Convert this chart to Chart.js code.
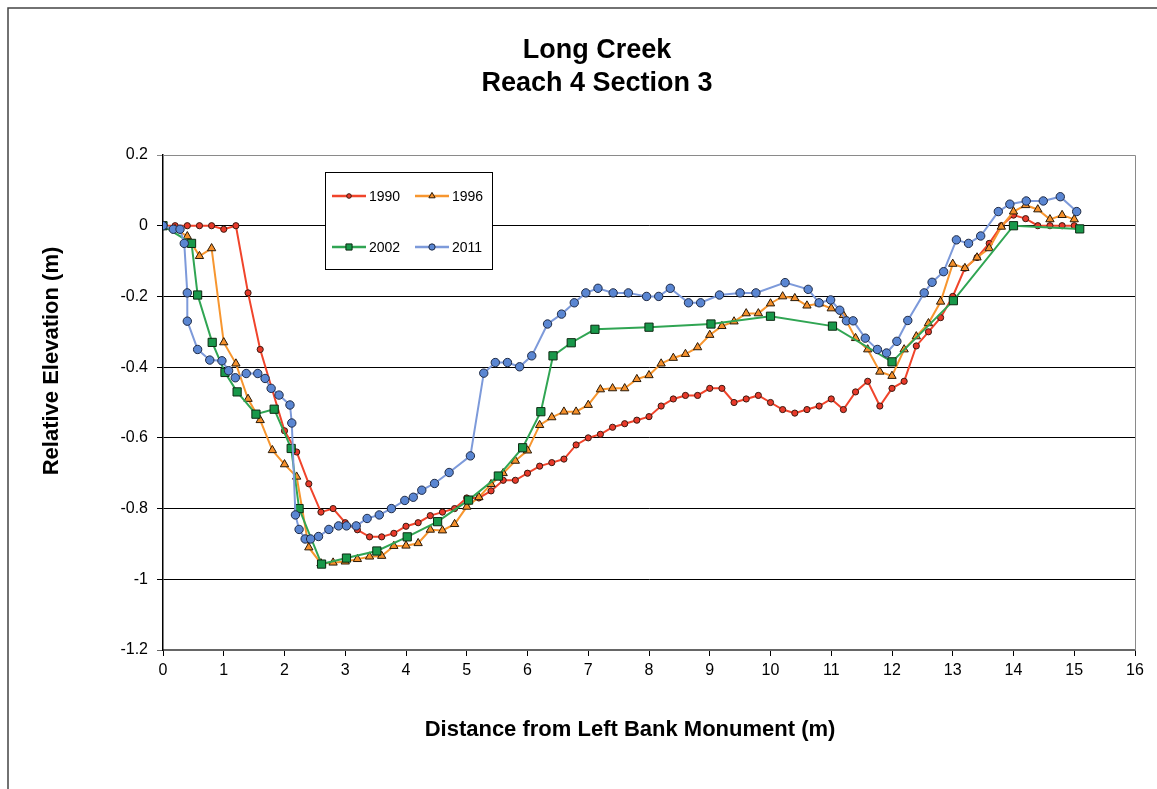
<!DOCTYPE html>
<html>
<head>
<meta charset="utf-8">
<script src="https://cdn.jsdelivr.net/npm/chart.js@4.4.1/dist/chart.umd.min.js"></script>
<style>
html,body{margin:0;padding:0;background:#fff;}
#wrap{width:1157px;height:789px;position:relative;}
</style>
</head>
<body>
<div id="wrap"><canvas id="c" width="1157" height="789"></canvas></div>
<script>
const titleLines = ["Long Creek", "Reach 4 Section 3"];
const xAxisTitle = "Distance from Left Bank Monument (m)";
const yAxisTitle = "Relative Elevation (m)";
const seriesNames = ["1990", "1996", "2002", "2011"];

const x1990 = [0,0.2,0.4,0.6,0.8,1.0,1.2,1.4,1.6,2.0,2.2,2.4,2.6,2.8,3.0,3.2,3.4,3.6,3.8,4.0,4.2,4.4,4.6,4.8,5.0,5.2,5.4,5.6,5.8,6.0,6.2,6.4,6.6,6.8,7.0,7.2,7.4,7.6,7.8,8.0,8.2,8.4,8.6,8.8,9.0,9.2,9.4,9.6,9.8,10.0,10.2,10.4,10.6,10.8,11.0,11.2,11.4,11.6,11.8,12.0,12.2,12.4,12.6,12.8,13.0,13.2,13.4,13.6,13.8,14.0,14.2,14.4,14.6,14.8,15.0];
const y1990 = [0,0,0,0,0,-0.01,0,-0.19,-0.35,-0.58,-0.64,-0.73,-0.81,-0.80,-0.84,-0.86,-0.88,-0.88,-0.87,-0.85,-0.84,-0.82,-0.81,-0.80,-0.77,-0.77,-0.75,-0.72,-0.72,-0.70,-0.68,-0.67,-0.66,-0.62,-0.60,-0.59,-0.57,-0.56,-0.55,-0.54,-0.51,-0.49,-0.48,-0.48,-0.46,-0.46,-0.50,-0.49,-0.48,-0.50,-0.52,-0.53,-0.52,-0.51,-0.49,-0.52,-0.47,-0.44,-0.51,-0.46,-0.44,-0.34,-0.30,-0.26,-0.20,-0.12,-0.09,-0.05,0,0.03,0.02,0,0,0,0];

const x1996 = [0,0.2,0.4,0.6,0.8,1.0,1.2,1.4,1.6,1.8,2.0,2.2,2.4,2.6,2.8,3.0,3.2,3.4,3.6,3.8,4.0,4.2,4.4,4.6,4.8,5.0,5.2,5.4,5.6,5.8,6.0,6.2,6.4,6.6,6.8,7.0,7.2,7.4,7.6,7.8,8.0,8.2,8.4,8.6,8.8,9.0,9.2,9.4,9.6,9.8,10.0,10.2,10.4,10.6,10.8,11.0,11.2,11.4,11.6,11.8,12.0,12.2,12.4,12.6,12.8,13.0,13.2,13.4,13.6,13.8,14.0,14.2,14.4,14.6,14.8,15.0];
const y1996 = [0,-0.01,-0.03,-0.086,-0.064,-0.33,-0.39,-0.49,-0.55,-0.635,-0.675,-0.71,-0.91,-0.955,-0.953,-0.95,-0.943,-0.936,-0.934,-0.906,-0.905,-0.898,-0.86,-0.862,-0.844,-0.795,-0.768,-0.731,-0.70,-0.665,-0.636,-0.564,-0.542,-0.526,-0.526,-0.507,-0.463,-0.46,-0.46,-0.434,-0.423,-0.39,-0.374,-0.363,-0.344,-0.309,-0.284,-0.271,-0.248,-0.248,-0.22,-0.20,-0.205,-0.226,-0.22,-0.234,-0.253,-0.318,-0.35,-0.413,-0.425,-0.35,-0.313,-0.276,-0.215,-0.108,-0.12,-0.09,-0.064,-0.003,0.04,0.058,0.046,0.018,0.03,0.018];

const x2002 = [0,0.47,0.57,0.81,1.02,1.22,1.53,1.83,2.11,2.24,2.61,3.02,3.52,4.02,4.52,5.03,5.52,5.92,6.22,6.42,6.72,7.11,8.0,9.02,10.0,11.02,12.0,13.01,14.0,15.09];
const y2002 = [0,-0.05,-0.196,-0.33,-0.415,-0.47,-0.533,-0.519,-0.63,-0.80,-0.957,-0.94,-0.92,-0.88,-0.837,-0.776,-0.708,-0.628,-0.526,-0.368,-0.331,-0.293,-0.287,-0.278,-0.256,-0.284,-0.385,-0.212,0,-0.009];

const x2011 = [0,0.17,0.28,0.35,0.40,0.40,0.57,0.77,0.97,1.08,1.19,1.37,1.56,1.68,1.78,1.91,2.09,2.12,2.18,2.24,2.34,2.43,2.56,2.73,2.89,3.02,3.18,3.36,3.56,3.76,3.98,4.12,4.26,4.47,4.71,5.06,5.28,5.47,5.67,5.87,6.07,6.33,6.56,6.77,6.96,7.16,7.41,7.66,7.96,8.16,8.35,8.65,8.85,9.16,9.5,9.76,10.24,10.62,10.8,10.99,11.14,11.25,11.36,11.56,11.76,11.91,12.08,12.26,12.53,12.66,12.85,13.06,13.26,13.46,13.75,13.94,14.21,14.49,14.77,15.04];
const y2011 = [0,-0.01,-0.01,-0.05,-0.19,-0.27,-0.35,-0.38,-0.382,-0.41,-0.43,-0.418,-0.418,-0.432,-0.46,-0.479,-0.507,-0.558,-0.818,-0.859,-0.886,-0.886,-0.879,-0.859,-0.849,-0.849,-0.849,-0.828,-0.818,-0.80,-0.777,-0.768,-0.748,-0.729,-0.698,-0.651,-0.417,-0.387,-0.387,-0.399,-0.368,-0.278,-0.25,-0.218,-0.19,-0.177,-0.19,-0.19,-0.20,-0.20,-0.177,-0.218,-0.218,-0.196,-0.19,-0.19,-0.161,-0.18,-0.218,-0.21,-0.239,-0.269,-0.269,-0.318,-0.35,-0.36,-0.327,-0.268,-0.19,-0.16,-0.13,-0.04,-0.05,-0.029,0.04,0.061,0.07,0.07,0.082,0.04];

const xMin = 0, xMax = 16, xStep = 1;
const yMin = -1.2, yMax = 0.2, yStep = 0.2;

function pts(xs, ys){ return xs.map((x,i)=>({x:x, y:ys[i]})); }

const styles = [
  {line:'#f0442b', fill:'#e8392a', edge:'#3a1a10', shape:'circle', r:3.1},
  {line:'#f7962f', fill:'#f5902c', edge:'#2a1a08', shape:'triangle', r:4.8},
  {line:'#30a553', fill:'#18984a', edge:'#0d2a12', shape:'rect', r:5.8},
  {line:'#7d9ada', fill:'#5a86d2', edge:'#1f2a44', shape:'circle', r:4.2}
];
const seriesData = [pts(x1990,y1990), pts(x1996,y1996), pts(x2002,y2002), pts(x2011,y2011)];
const orders = [3,2,1,0];

const datasets = seriesNames.map((n,i)=>({
  label:n, data:seriesData[i], showLine:true, tension:0,
  borderColor:styles[i].line, borderWidth:2,
  pointStyle:styles[i].shape, pointRadius:styles[i].r, pointHoverRadius:styles[i].r,
  pointBackgroundColor:styles[i].fill, pointBorderColor:styles[i].edge, pointBorderWidth:1,
  order:orders[i]
}));

const FONT = '"Liberation Sans", Arial, sans-serif';

const decor = {
  id:'decor',
  beforeDatasetsDraw(chart){
    const {ctx, chartArea:a} = chart;
    ctx.save();
    ctx.strokeStyle = '#8a8a8a'; ctx.lineWidth = 1;
    ctx.beginPath();
    ctx.moveTo(a.left, a.top+0.5); ctx.lineTo(a.right+0.5, a.top+0.5); ctx.lineTo(a.right+0.5, a.bottom);
    ctx.stroke();
    ctx.restore();
  },
  afterDraw(chart){
    const {ctx} = chart;
    ctx.save();
    ctx.strokeStyle = '#444'; ctx.lineWidth = 1.5;
    ctx.beginPath(); ctx.moveTo(1157, 8); ctx.lineTo(8, 8); ctx.lineTo(8, 789); ctx.stroke();
    ctx.fillStyle = '#000';
    ctx.textAlign = 'center'; ctx.textBaseline = 'alphabetic';
    ctx.font = 'bold 27px ' + FONT;
    ctx.fillText(titleLines[0], 597, 58);
    ctx.fillText(titleLines[1], 597, 91);
    ctx.font = 'bold 22px ' + FONT;
    ctx.fillText(xAxisTitle, 630, 736);
    ctx.save();
    ctx.translate(58, 361); ctx.rotate(-Math.PI/2);
    ctx.fillText(yAxisTitle, 0, 0);
    ctx.restore();
    const bx=325, by=172, bw=167, bh=97;
    ctx.fillStyle='#fff'; ctx.fillRect(bx,by,bw,bh);
    ctx.strokeStyle='#000'; ctx.lineWidth=1; ctx.strokeRect(bx+0.5,by+0.5,bw,bh);
    const pos = [[332,196],[415,196],[332,247],[415,247]];
    ctx.font = '14px ' + FONT; ctx.textAlign='left'; ctx.textBaseline='middle';
    seriesNames.forEach((n,i)=>{
      const [lx,ly]=pos[i]; const s=styles[i];
      ctx.strokeStyle=s.line; ctx.lineWidth=2.5;
      ctx.beginPath(); ctx.moveTo(lx,ly); ctx.lineTo(lx+34,ly); ctx.stroke();
      ctx.fillStyle=s.fill; ctx.strokeStyle=s.edge; ctx.lineWidth=1;
      Chart.helpers.drawPoint(ctx,{pointStyle:s.shape, radius:s.r*0.75, rotation:0, borderWidth:1}, lx+17, ly);
      ctx.fillStyle='#000';
      ctx.fillText(n, lx+37, ly+1);
    });
    ctx.restore();
  }
};

new Chart(document.getElementById('c'), {
  type:'scatter',
  data:{datasets},
  options:{
    responsive:false, animation:false, devicePixelRatio:1,
    layout:{padding:{left:0, top:155, right:22, bottom:0}},
    plugins:{legend:{display:false}, tooltip:{enabled:false}, title:{display:false}},
    scales:{
      x:{
        type:'linear', min:xMin, max:xMax,
        ticks:{stepSize:xStep, color:'#000', font:{family:FONT, size:16}, padding:5, maxRotation:0},
        grid:{drawOnChartArea:false, drawTicks:true, tickLength:6, color:'#000'},
        border:{display:true, color:'#666', width:2},
        afterFit(s){ s.height = 139; }
      },
      y:{
        type:'linear', min:yMin, max:yMax,
        ticks:{stepSize:yStep, color:'#000', font:{family:FONT, size:16}, padding:9,
          callback:(v)=>{ const r=Math.round(v*10)/10; return (r===0?0:r).toString(); }},
        grid:{drawOnChartArea:true, drawTicks:true, tickLength:6,
          color:(c)=> (c.tick && Math.abs(c.tick.value-yMax)<1e-6) ? '#8a8a8a' : (c.tick && Math.abs(c.tick.value-yMin)<1e-6 ? '#666' : '#000'),
          lineWidth:1},
        border:{display:true, color:'#000', width:1.5},
        afterFit(s){ s.width = 163; }
      }
    }
  },
  plugins:[decor]
});
</script>
</body>
</html>
